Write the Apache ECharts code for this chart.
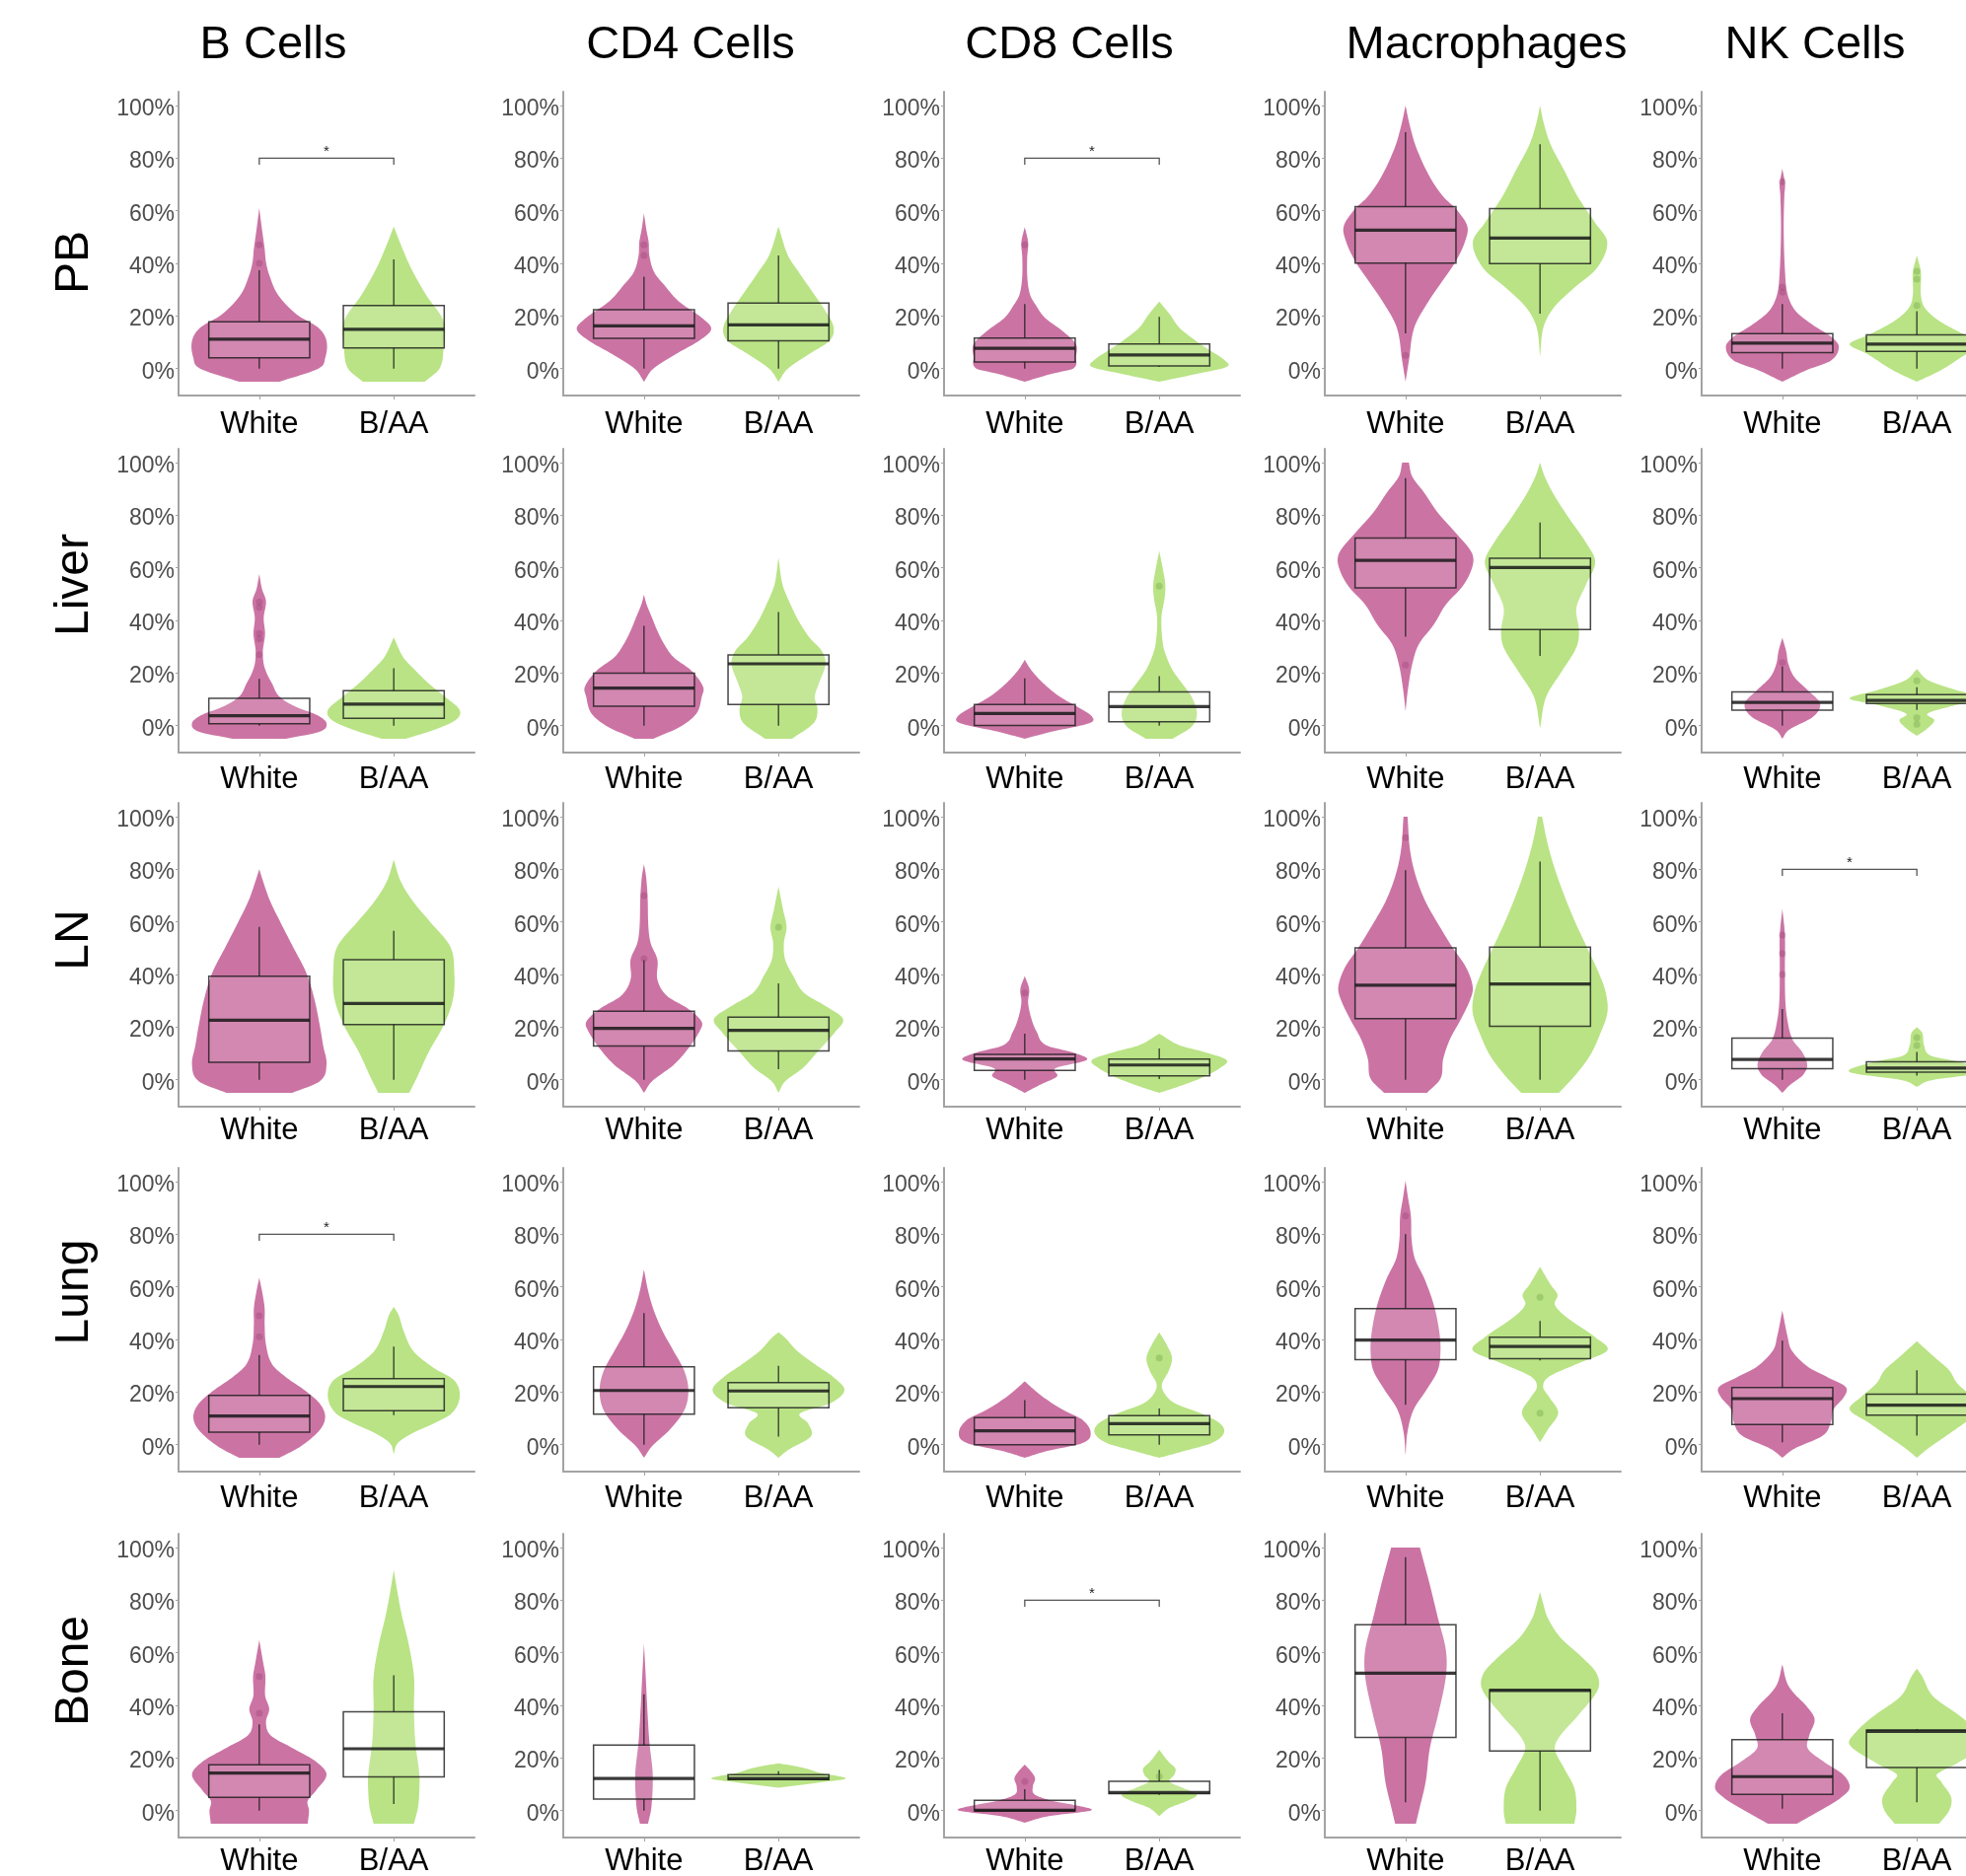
<!DOCTYPE html>
<html>
<head>
<meta charset="utf-8">
<script src="https://cdn.jsdelivr.net/npm/echarts@6/dist/echarts.min.js"></script>
<style>
  html, body {margin: 0; padding: 0; background: #fff}
  #chart {width: 1993px; height: 1902px}
</style>
</head>
<body>
<div id="chart"></div>
<script>
// facets
const cellTypes = ['B Cells', 'CD4 Cells', 'CD8 Cells', 'Macrophages', 'NK Cells']
const tissues = ['PB', 'Liver', 'LN', 'Lung', 'Bone']
const groups = ['White', 'B/AA']
const yTicks = [0, 20, 40, 60, 80, 100]

// box stats per tissue: [White, B/AA], each [lowWhisker, q1, median, q3, highWhisker] (%)
const boxB = [
  [[0, 4.1, 11.2, 17.8, 37.4], [0, 7.8, 14.9, 24, 41.5]],
  [[0, 0.75, 3.8, 10.4, 17.8], [0, 2.8, 8.2, 13.3, 21.8]],
  [[0, 6.6, 22.6, 39.3, 58.1], [0, 21, 29, 45.6, 56.6]],
  [[0, 4.75, 10.9, 18.75, 34.1], [11.25, 12.9, 22.1, 25.1, 37.25]],
  [[0, 5, 14.3, 17.4, 32.8], [2.5, 12.8, 23.5, 37.6, 51.4]],
]
const boxCD4 = [
  [[0, 11.5, 16.2, 22.4, 34.9], [0, 10.6, 16.6, 24.9, 43]],
  [[0, 7.4, 14.3, 19.9, 37.9], [0, 8, 23.5, 26.9, 43.2]],
  [[0, 12.8, 19.5, 26, 45.4], [4, 10.9, 18.8, 23.8, 36.6]],
  [[0, 11.6, 20.6, 29.6, 50], [3.1, 14, 20.4, 23.6, 30]],
  [[0, 4.4, 12.2, 24.9, 44.2], [11.8, 11.8, 12.2, 13.7, 15]],
]
const boxCD8 = [
  [[0, 2.5, 7.7, 11.6, 24.5], [0.6, 1, 5.2, 9.3, 19.7]],
  [[0, 0.1, 4.6, 8, 18], [0, 1.5, 7.2, 12.8, 18.8]],
  [[0, 3.5, 7.9, 9.6, 17.5], [0.25, 1.5, 5.6, 7.8, 11.9]],
  [[0, 0, 5.25, 10.25, 16.9], [0, 3.75, 8, 11, 13.75]],
  [[0, 0, 0.1, 3.9, 8.1], [6, 6.4, 6.9, 11.1, 15.4]],
]
const boxMac = [
  [[13.4, 40.1, 52.6, 61.6, 89.9], [20.9, 39.9, 49.6, 60.8, 85.3]],
  [[33.8, 52.4, 62.8, 71.3, 94.1], [26.5, 36.5, 60.1, 63.6, 77.2]],
  [[0, 23.2, 35.9, 50.1, 79.7], [0, 20.3, 36.4, 50.4, 82.9]],
  [[15.2, 32.3, 39.8, 51.7, 80], [32, 32.7, 37.3, 40.8, 47]],
  [[3.2, 27.8, 52.2, 70.7, 96.3], [0, 22.7, 45.7, 45.9, 45.9]],
]
const boxNK = [
  [[0, 6.1, 9.7, 13.3, 24.5], [0, 6.5, 9.3, 12.8, 21.8]],
  [[0, 5.9, 8.8, 12.8, 22.5], [6, 8.4, 9.6, 11.8, 14.6]],
  [[0, 4.2, 7.7, 15.8, 26.9], [1.6, 2.9, 4.4, 6.8, 10.6]],
  [[0.9, 7.7, 17.5, 21.7, 39.5], [3.4, 11.2, 15, 19.2, 28.3]],
  [[0.75, 6.2, 12.9, 27, 37], [3.2, 16.4, 30.1, 30.6, 31]],
]

// violin outlines: [value %, half width in category units]
const violinB = [
  [[[-5, .15], [0, .44], [4, .49], [10.5, .5], [15.5, .44], [20.5, .28], [28, .14], [35.5, .075], [40.5, .05], [45.5, .04], [53, .02], [61, 0]],
   [[-5, .23], [0, .34], [8, .37], [18, .37], [28, .24], [38, .13], [45.5, .065], [54, 0]]],
  [[[-5, .2], [-2.3, .45], [.9, .5], [4, .43], [7.2, .27], [11, .15], [16, .095], [19.7, .057], [23.5, .033], [28.5, .027], [34.8, .043], [41, .033], [47.3, .05], [52, .02], [57.6, 0]],
   [[-5, .09], [-1.6, .3], [2.1, .46], [5.9, .49], [11, .38], [16, .26], [21, .16], [26, .07], [33.5, 0]]],
  [[[-5, .245], [-.6, .45], [5.6, .5], [13, .475], [20.6, .45], [30.6, .41], [40.6, .35], [50.6, .25], [60.6, .15], [68, .08], [74.4, .035], [80, 0]],
   [[-5, .115], [.6, .17], [10.6, .26], [20.6, .37], [30.6, .44], [40.6, .45], [50.6, .42], [60.6, .26], [68, .14], [75.6, .05], [83.7, 0]]],
  [[[-5, .15], [-.6, .31], [5.6, .45], [10.6, .49], [15.6, .45], [20.6, .34], [25.6, .2], [30.6, .095], [38, .05], [45.6, .04], [51.9, .04], [58, .022], [63.4, 0]],
   [[-3.5, 0], [.6, .03], [4.4, .14], [8.1, .3], [11.9, .43], [18.1, .49], [24.4, .45], [29.4, .29], [35.6, .145], [43, .075], [49.4, .035], [52.4, 0]]],
  [[[-5, .36], [0, .37], [3.7, .36], [7.5, .42], [13.7, .5], [18.7, .42], [23.7, .25], [28.6, .085], [33.6, .05], [38.6, .074], [43.6, .044], [51, .046], [56, .03], [64.8, 0]],
   [[-5, .15], [1.2, .18], [7.5, .19], [13.7, .19], [26.2, .16], [38.6, .15], [51, .15], [63.5, .11], [73.5, .063], [82.2, .03], [91.5, 0]]],
]
const violinCD4 = [
  [[[-5, 0], [0, .07], [5.6, .24], [10.6, .41], [15, .5], [19.3, .43], [25.5, .26], [31.8, .15], [36.7, .075], [43, .04], [48, .035], [53, .017], [59, 0]],
   [[-5, 0], [0, .07], [5.6, .23], [10.6, .38], [15.6, .41], [21.8, .35], [29.3, .25], [36.7, .15], [43, .07], [54, 0]]],
  [[[-5, .07], [-.4, .27], [4.6, .39], [11, .43], [14.7, .44], [21, .35], [26, .22], [31, .15], [36, .1], [41, .06], [46, .02], [49.8, 0]],
   [[-5, .1], [.9, .26], [5.9, .29], [11, .27], [16, .3], [23.5, .35], [28.5, .32], [33.5, .23], [39.8, .15], [46, .09], [53.6, .03], [63.9, 0]]],
  [[[-5, 0], [-.6, .06], [5.6, .22], [11.9, .33], [18.1, .41], [21.9, .43], [26.9, .33], [31.9, .17], [38, .1], [45.6, .1], [51.9, .05], [58, .033], [69.4, .027], [77, .016], [82, 0]],
   [[-5, 0], [-.6, .05], [4.4, .18], [10.6, .29], [18.1, .42], [23.1, .48], [28, .35], [33, .19], [39.4, .11], [45.6, .05], [51.9, .04], [58, .06], [64.4, .035], [73.4, 0]]],
  [[[-5, 0], [-.6, .06], [5.6, .19], [13.1, .3], [20.6, .33], [28, .3], [35.6, .22], [43, .14], [50.6, .076], [58, .033], [66.5, 0]],
   [[-5, 0], [-1.9, .075], [3.1, .24], [8.1, .22], [11.9, .16], [15.6, .38], [20.6, .49], [25.6, .41], [30.6, .27], [35.6, .14], [40.6, .05], [42.75, 0]]],
  [[[-5, .03], [1.2, .055], [13.7, .065], [26.2, .04], [38.6, .025], [51, .013], [63.5, 0]],
   [[8.7, 0], [10.6, .29], [12.2, .5], [14.3, .31], [16.2, .19], [18, 0]]],
]
const violinCD8 = [
  [[[-5, 0], [-2, .2], [0, .36], [4.4, .38], [9.3, .38], [14.3, .28], [19.3, .15], [24.3, .08], [28, .04], [34, .02], [42, .018], [48, .025], [53.8, 0]],
   [[-5, 0], [-2, .28], [.6, .5], [3, .49], [6.8, .38], [10.6, .27], [15.5, .15], [20.5, .08], [25.5, 0]]],
  [[[-5, 0], [-2.3, .2], [.9, .48], [3.4, .5], [7.2, .39], [11, .26], [16, .14], [21, .05], [25, 0]],
   [[-5, .1], [-.4, .24], [4.6, .28], [11, .24], [16, .17], [21, .1], [26, .055], [31, .027], [41, .016], [48.6, .04], [53.6, .045], [58.6, .03], [66.4, 0]]],
  [[[-5, 0], [-1.9, .115], [1.25, .24], [4.4, .23], [7.5, .46], [10, .38], [13.1, .16], [18.1, .09], [23.1, .05], [29.4, .025], [34.4, .033], [39.4, 0]],
   [[-5, 0], [-2.5, .15], [.6, .31], [4.4, .45], [7.5, .5], [10.6, .33], [13.1, .15], [17.5, 0]]],
  [[[-5, 0], [-2.5, .16], [.6, .43], [4.4, .49], [9.4, .43], [13.1, .29], [16.9, .17], [20.6, .076], [24.1, 0]],
   [[-5, 0], [-2.5, .18], [.6, .39], [4.4, .48], [8.1, .45], [11.9, .31], [15.6, .12], [19.4, .04], [23, .02], [28, .07], [33, .095], [38, .055], [42.75, 0]]],
  [[[-4.6, 0], [-2.1, .18], [0, .49], [1.6, .42], [3.5, .22], [6, .077], [9.1, .06], [12.2, .077], [14.7, .05], [17.5, 0]],
   [[-2.1, 0], [1, .075], [3.5, .2], [6, .28], [8.5, .18], [11, .077], [13.5, .11], [16, .12], [18.5, .07], [23.1, 0]]],
]
const violinMac = [
  [[[-5, 0], [3, .025], [15.6, .065], [25.5, .17], [33, .27], [40.5, .37], [48, .44], [54, .46], [60.4, .38], [65.4, .28], [72.9, .18], [84, .08], [92.8, .03], [100, 0]],
   [[4.6, 0], [15.6, .025], [23, .1], [30.5, .25], [38, .42], [48, .5], [55.4, .41], [65.4, .28], [75.3, .18], [85, .08], [92.8, .03], [100, 0]]],
  [[[5.5, 0], [13.4, .017], [23.4, .05], [31, .1], [38.4, .21], [46, .3], [53.4, .43], [61, .5], [66, .49], [73.5, .37], [81, .24], [88.5, .14], [94.7, .05], [100, .025]],
   [[-1, 0], [10.9, .045], [20.9, .165], [29.7, .27], [35.9, .29], [44.7, .27], [53.4, .34], [62.2, .41], [69.7, .34], [78.5, .22], [87.2, .11], [94.7, .035], [100, 0]]],
  [[[-5, .16], [.4, .26], [7.8, .28], [15.3, .33], [22.8, .41], [30.3, .48], [35.2, .5], [42.7, .45], [50.2, .35], [57.7, .26], [67.6, .15], [77.6, .075], [87.5, .033], [100, .015]],
   [[-5, .14], [1.6, .26], [9.1, .37], [16.6, .44], [25.3, .5], [32.8, .49], [40.2, .44], [50.2, .35], [60.1, .26], [70.1, .18], [80.1, .11], [90, .055], [100, .015]]],
  [[[-4.1, 0], [4.6, .014], [13.3, .06], [20.8, .155], [28.3, .24], [35.8, .26], [43.3, .25], [53.2, .21], [63.2, .14], [70.7, .07], [78.2, .045], [86.9, .04], [94.4, .017], [100.4, 0]],
   [[.9, 0], [5.9, .06], [12.1, .135], [18.3, .065], [22, .023], [25.8, .065], [30.8, .28], [35.8, .5], [40.8, .41], [48.3, .2], [53.2, .11], [57, .13], [60.7, .08], [67.6, 0]]],
  [[[-5, .077], [0, .1], [11, .15], [23.5, .18], [36, .24], [51, .3], [61, .3], [73.4, .24], [86, .18], [100, .107]],
   [[-5, .255], [0, .27], [8.5, .255], [16, .18], [23.5, .11], [28.5, .15], [36, .28], [46, .43], [52.2, .42], [58.4, .31], [65.9, .15], [73.4, .056], [78.4, .025], [83.1, 0]]],
]
const violinNK = [
  [[[-5, 0], [-.6, .18], [3, .36], [8.1, .42], [11.8, .37], [16.8, .22], [21.8, .1], [28, .04], [36.7, .02], [53, .01], [66, .015], [70, .02], [76, 0]],
   [[-5, 0], [-.6, .18], [5.6, .37], [9.3, .5], [13, .35], [18, .17], [23, .06], [28, .03], [36.7, .03], [43, 0]]],
  [[[-5, 0], [-1.6, .05], [3.4, .23], [8.4, .28], [13.4, .19], [18.4, .09], [23.4, .045], [28.4, .028], [33.4, 0]],
   [[-3.9, 0], [-1, .08], [2.1, .13], [4.6, .08], [7.8, .29], [10.3, .5], [13.4, .3], [17.1, .09], [21.5, 0]]],
  [[[-5, 0], [-2.1, .055], [1.6, .15], [5.4, .185], [10.3, .15], [15.3, .075], [22.8, .037], [30.3, .022], [42.7, .019], [55, .019], [65, 0]],
   [[-2.7, 0], [-.2, .11], [2.9, .5], [6.6, .33], [9, .11], [12.8, .055], [17.8, .04], [20, 0]]],
  [[[-5, 0], [-1.6, .087], [3.4, .3], [8.4, .36], [13.4, .38], [18.3, .46], [22, .47], [25.8, .33], [29.6, .19], [35.8, .07], [40.8, .04], [51, 0]],
   [[-5, 0], [-1.6, .08], [3.4, .22], [8.4, .36], [13.4, .5], [18.3, .41], [23.3, .3], [28.3, .24], [33.3, .13], [39.3, 0]]],
  [[[-5, .107], [0, .28], [4.7, .43], [8.5, .5], [13.5, .455], [18.5, .31], [23.5, .19], [28.5, .2], [34.7, .24], [39.7, .18], [44.7, .085], [48.4, .036], [55.6, 0]],
   [[-5, .165], [0, .24], [5, .255], [11, .18], [13.8, .15], [18, .3], [25, .5], [30, .45], [36, .32], [43.5, .12], [51, .04], [54, 0]]],
]

// faint outlier points (%), per tissue: [White, B/AA]
const outB = [[[47, 40], []], [[47, 45, 35, 33, 27], []], [[], []], [[49, 41], []], [[51, 37], []]]
const outCD4 = [[[47, 43], []], [[], []], [[70, 46], [58]], [[], []], [[], []]]
const outCD8 = [[[47], []], [[], [53]], [[33], []], [[], [33]], [[11], [13]]]
const outMac = [[[5], []], [[23], []], [[92], []], [[87], [56, 12]], [[], []]]
const outNK = [[[71, 31, 29], [37, 34, 24]], [[24], [17, 3, 0.5]], [[55, 48, 40], [16, 13]], [[], []], [[], []]]

// significance brackets: [tissue index, cell index]
const sigPanels = [[0, 0], [0, 2], [2, 4], [3, 0], [4, 2]]
const sigLevel = 80

const boxes = [boxB, boxCD4, boxCD8, boxMac, boxNK]
const violins = [violinB, violinCD4, violinCD8, violinMac, violinNK]
const outs = [outB, outCD4, outCD8, outMac, outNK]

// layout (px)
const colLeft = [181, 571, 957, 1343, 1725]
const rowTop = [93, 455, 814, 1184, 1555]
const labelGap = [14, 12, 9, 12, 9]
const panelW = 300
const panelH = 308
const titleX = [277, 700, 1084, 1507, 1840]
const rowLabelY = [266, 593, 953, 1310, 1694]

const fillCol = ['#CB74A4', '#B9E385']
const dotCol = ['rgba(140,50,100,0.35)', 'rgba(110,160,70,0.45)']
const font = 'Liberation Sans, Arial, Helvetica, sans-serif'
const boxHalf = 0.375

// cubic hermite through the read-off outline points
function smooth(pts) {
  const n = pts.length
  const m = pts.map((p, i) => {
    const a = pts[Math.max(0, i - 1)]
    const b = pts[Math.min(n - 1, i + 1)]
    return (b[1] - a[1]) / (b[0] - a[0])
  })
  const out = []
  for (let i = 0; i < n - 1; i++) {
    const [y1, w1] = pts[i]
    const [y2, w2] = pts[i + 1]
    const h = y2 - y1
    for (let s = 0; s < 10; s++) {
      const t = s / 10
      const t2 = t * t
      const t3 = t2 * t
      const w = (2 * t3 - 3 * t2 + 1) * w1 + (t3 - 2 * t2 + t) * h * m[i] +
        (-2 * t3 + 3 * t2) * w2 + (t3 - t2) * h * m[i + 1]
      out.push([y1 + h * t, Math.max(0, w)])
    }
  }
  out.push(pts[n - 1])
  return out
}

const grid = []
const xAxis = []
const yAxis = []
const series = []
let k = 0

tissues.forEach((tis, r) => {
  cellTypes.forEach((cell, c) => {
    grid.push({
      left: colLeft[c], top: rowTop[r], width: panelW, height: panelH,
      containLabel: false, outerBoundsMode: 'none',
    })
    xAxis.push({
      gridIndex: k, type: 'value', min: 0.4, max: 2.6,
      axisLine: {show: true, onZero: false, lineStyle: {color: '#A3A3A3', width: 2}},
      axisTick: {show: true, customValues: [1, 2], length: 4, lineStyle: {color: '#A3A3A3', width: 1}},
      axisLabel: {
        customValues: [1, 2], formatter: v => groups[Math.round(v) - 1],
        fontSize: 31, color: '#000', margin: labelGap[r], fontFamily: font,
      },
      splitLine: {show: false},
    })
    yAxis.push({
      gridIndex: k, type: 'value', min: -10.25, max: 105.25,
      axisLine: {show: true, onZero: false, lineStyle: {color: '#A3A3A3', width: 2}},
      axisTick: {show: true, customValues: yTicks, length: 3, lineStyle: {color: '#A3A3A3', width: 1}},
      axisLabel: {
        customValues: yTicks, formatter: v => `{p|${v}%}`, margin: 4,
        rich: {p: {fontSize: 23, color: '#4D4D4D', fontFamily: font, padding: [7, 0, 0, 0]}},
      },
      splitLine: {show: false},
    })

    const shapes = violins[c][r].map(smooth)
    series.push({
      type: 'custom', xAxisIndex: k, yAxisIndex: k, silent: true,
      data: [[1, 0], [2, 0]], encode: {x: 0, y: 1},
      renderItem(params, api) {
        const g = api.value(0)
        const prof = shapes[params.dataIndex]
        const left = prof.map(([y, w]) => api.coord([g - w, y]))
        const right = prof.map(([y, w]) => api.coord([g + w, y])).reverse()
        return {type: 'polygon', shape: {points: left.concat(right)}, style: {fill: fillCol[params.dataIndex]}}
      },
    })

    const pts = []
    outs[c][r].forEach((vals, gi) => vals.forEach(v => pts.push({value: [gi + 1, v], itemStyle: {color: dotCol[gi]}})))
    if (pts.length) {
      series.push({type: 'scatter', xAxisIndex: k, yAxisIndex: k, silent: true, symbolSize: 7, data: pts})
    }

    series.push({
      type: 'custom', xAxisIndex: k, yAxisIndex: k, silent: true,
      data: boxes[c][r].map((b, gi) => [gi + 1, ...b]),
      encode: {x: 0, y: [1, 2, 3, 4, 5]},
      renderItem(params, api) {
        const g = api.value(0)
        const [lo, q1, med, q3, hi] = [1, 2, 3, 4, 5].map(i => api.value(i))
        const tl = api.coord([g - boxHalf, q3])
        const br = api.coord([g + boxHalf, q1])
        const line = (a, b, w) => ({
          type: 'line', shape: {x1: a[0], y1: a[1], x2: b[0], y2: b[1]},
          style: {stroke: 'rgba(25,25,25,0.85)', lineWidth: w},
        })
        return {
          type: 'group',
          children: [
            line(api.coord([g, q3]), api.coord([g, hi]), 1.3),
            line(api.coord([g, q1]), api.coord([g, lo]), 1.3),
            {
              type: 'rect',
              shape: {x: tl[0], y: tl[1], width: br[0] - tl[0], height: br[1] - tl[1]},
              style: {fill: 'rgba(255,255,255,0.15)', stroke: 'rgba(25,25,25,0.8)', lineWidth: 1.5},
            },
            line(api.coord([g - boxHalf, med]), api.coord([g + boxHalf, med]), 3.2),
          ],
        }
      },
    })

    if (sigPanels.some(([tr, tc]) => tr === r && tc === c)) {
      series.push({
        type: 'custom', xAxisIndex: k, yAxisIndex: k, silent: true,
        data: [[1, 2, sigLevel]], encode: {x: [0, 1], y: 2},
        renderItem(params, api) {
          const a = api.value(0)
          const b = api.value(1)
          const lv = api.value(2)
          const pts = [api.coord([a, lv - 2.5]), api.coord([a, lv]), api.coord([b, lv]), api.coord([b, lv - 2.5])]
          const star = api.coord([(a + b) / 2, lv + 2.6])
          return {
            type: 'group',
            children: [
              {type: 'polyline', shape: {points: pts}, style: {stroke: '#555', lineWidth: 1.3, fill: null}},
              {type: 'text', style: {x: star[0], y: star[1], text: '*', fill: '#222', font: '15px ' + font, textAlign: 'center', textVerticalAlign: 'middle'}},
            ],
          }
        },
      })
    }
    k++
  })
})

const graphic = []
cellTypes.forEach((t, c) => {
  graphic.push({
    type: 'text', x: titleX[c], y: 46,
    style: {text: t, fill: '#000', font: '47px ' + font, textAlign: 'center', textVerticalAlign: 'middle'},
  })
})
tissues.forEach((t, r) => {
  graphic.push({
    type: 'text', x: 76, y: rowLabelY[r], rotation: Math.PI / 2,
    style: {text: t, fill: '#000', font: '48px ' + font, textAlign: 'center', textVerticalAlign: 'middle'},
  })
})

const chart = echarts.init(document.getElementById('chart'))
chart.setOption({
  animation: false,
  backgroundColor: '#fff',
  grid, xAxis, yAxis, series, graphic,
})
</script>
</body>
</html>
